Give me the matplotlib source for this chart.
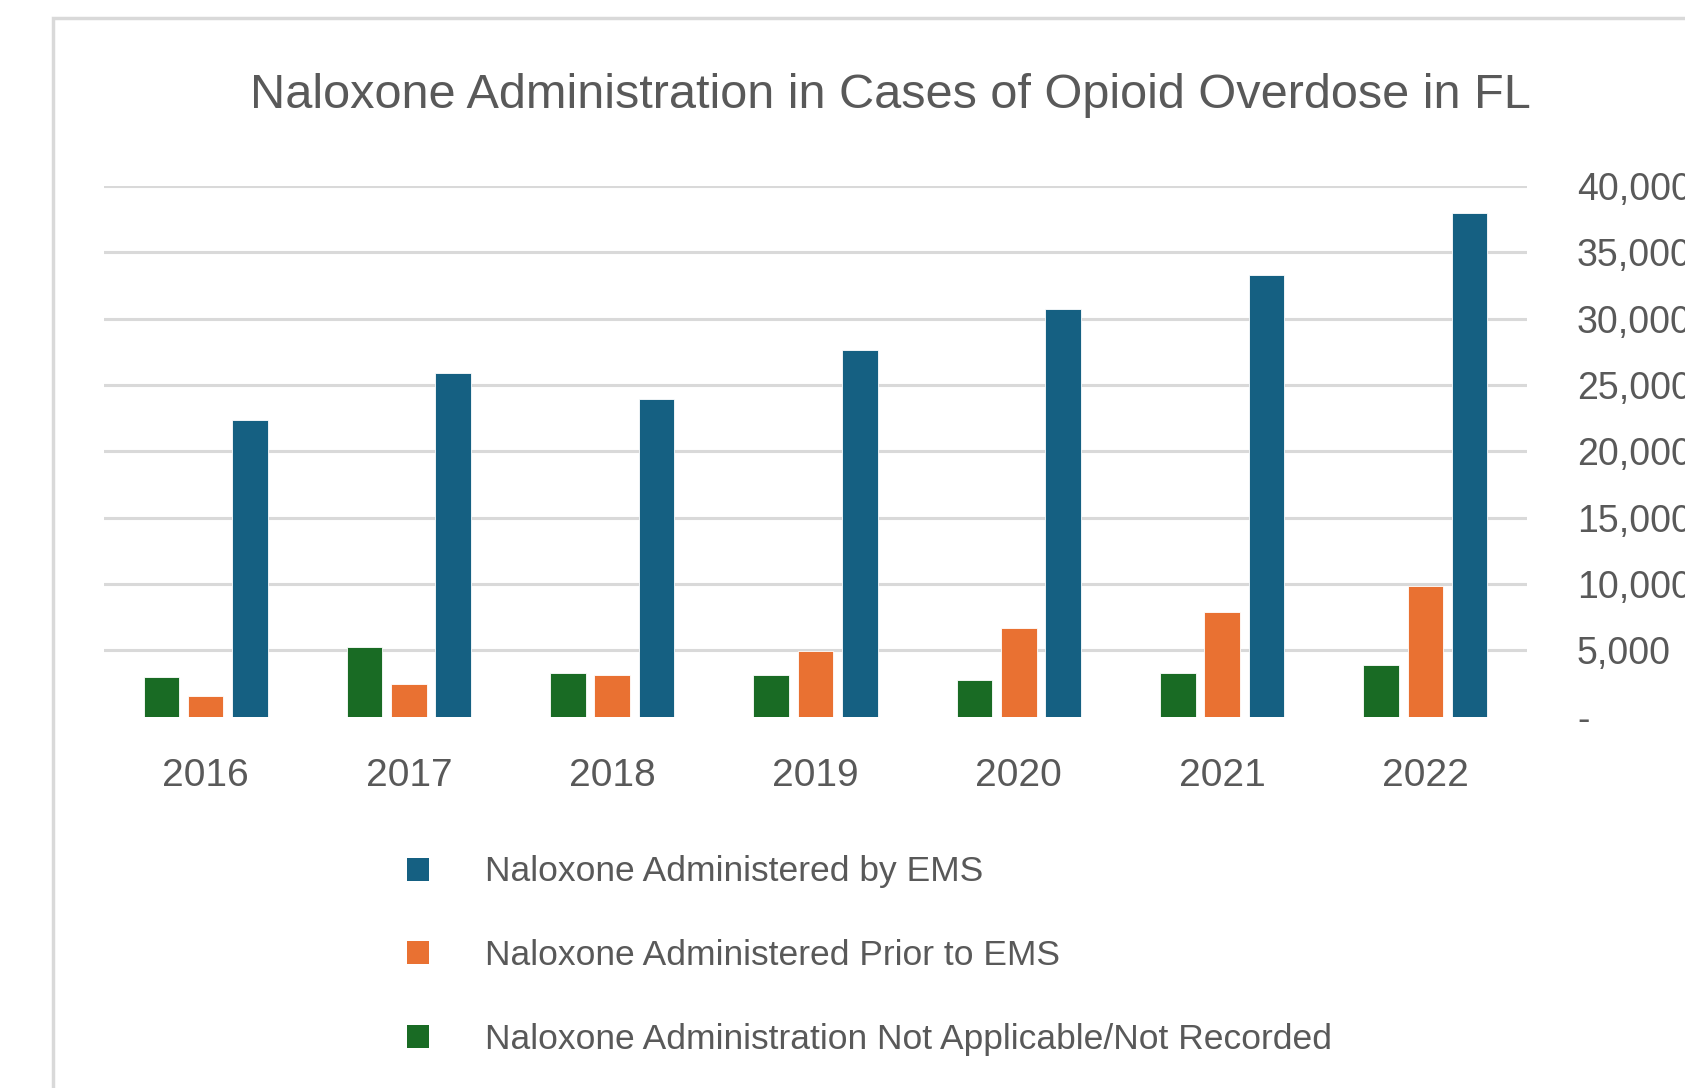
import matplotlib.pyplot as plt
import numpy as np
from matplotlib.patches import Rectangle, Patch
from matplotlib.ticker import FuncFormatter

# Data
years = ['2016', '2017', '2018', '2019', '2020', '2021', '2022']
not_recorded = [2980, 5250, 3330, 3160, 2800, 3310, 3860]
prior_to_ems = [1580, 2480, 3160, 4930, 6660, 7880, 9830]
by_ems = [22380, 25890, 23940, 27650, 30700, 33320, 37970]

labels = ['Naloxone Administered by EMS',
          'Naloxone Administered Prior to EMS',
          'Naloxone Administration Not Applicable/Not Recorded']

blue = '#156082'
orange = '#E97132'
green = '#196B24'
text_gray = '#595959'
narrow = ['Liberation Sans Narrow', 'Liberation Sans', 'DejaVu Sans']

fig = plt.figure(figsize=(16.85, 10.88), dpi=100)
fig.patch.set_facecolor('white')

# chart frame (runs off the right and bottom)
fig.patches.append(Rectangle((53 / 1685, -0.1), 1.2, 1 - 18 / 1088 + 0.1,
                             transform=fig.transFigure, fill=False,
                             edgecolor='#d9d9d9', linewidth=2.5))

ax = fig.add_axes([104 / 1685, 1 - 716.7 / 1088, (1527 - 104) / 1685, (716.7 - 186) / 1088])

x = np.arange(len(years))
w = 0.175
off = 0.218
ax.bar(x - off, not_recorded, w, color=green, edgecolor='white', linewidth=0.6)
ax.bar(x, prior_to_ems, w, color=orange, edgecolor='white', linewidth=0.6)
ax.bar(x + off, by_ems, w, color=blue, edgecolor='white', linewidth=0.6)

ax.set_xlim(-0.5, len(years) - 0.5)
ax.set_ylim(0, 40000)
ax.set_yticks(np.arange(0, 40001, 5000))
ax.yaxis.set_major_formatter(FuncFormatter(lambda v, p: '-' if v == 0 else f'{v:,.0f}'))
ax.yaxis.tick_right()
ax.set_xticks(x)
ax.set_xticklabels(years)

for s in ax.spines.values():
    s.set_visible(False)
ax.tick_params(axis='both', length=0, labelsize=27, labelcolor=text_gray)
ax.tick_params(axis='x', labelsize=28, pad=30)
ax.tick_params(axis='y', pad=36)
for lbl in ax.get_xticklabels() + ax.get_yticklabels():
    lbl.set_family('Liberation Sans')

for v in np.arange(5000, 40001, 5000):
    ax.axhline(v, color='#d9d9d9', linewidth=2.2, zorder=0)

fig.text(890.5 / 1685, 1 - 108.5 / 1088,
         'Naloxone Administration in Cases of Opioid Overdose in FL',
         ha='center', va='baseline', fontsize=35, color=text_gray, family=narrow)

handles = [Patch(facecolor=blue), Patch(facecolor=orange), Patch(facecolor=green)]
fig.legend(handles, labels, loc='upper left', bbox_to_anchor=(407 / 1685, 1 - 855.5 / 1088),
           frameon=False, labelcolor=text_gray,
           prop={'family': narrow, 'size': 25.5},
           handlelength=0.62, handleheight=0.62, handletextpad=1.57,
           labelspacing=1.43, borderpad=0, borderaxespad=0)

plt.savefig('out.png', dpi=100)
